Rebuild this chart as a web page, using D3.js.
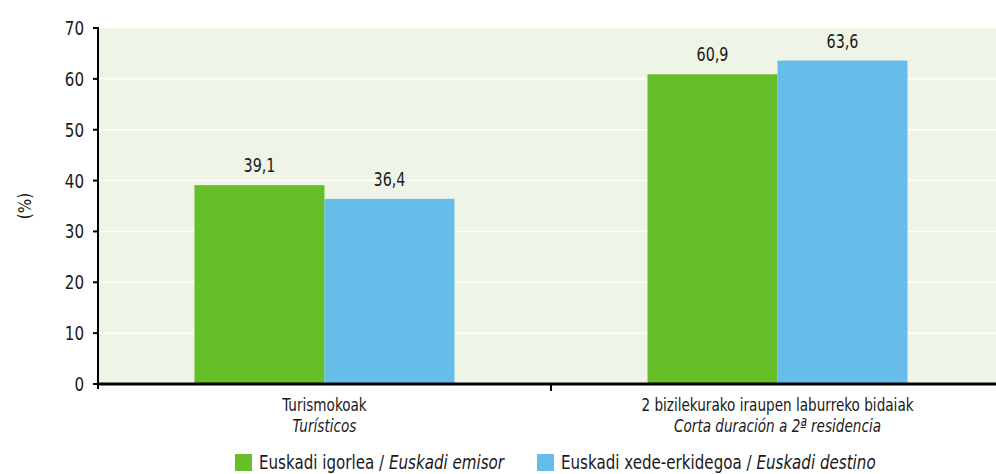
<!DOCTYPE html>
<html>
<head>
<meta charset="utf-8">
<script src="https://cdn.jsdelivr.net/npm/d3@7"></script>
<style>
  body { margin: 0; background: #fff; }
  svg text { font-family: "Liberation Sans Narrow", "DejaVu Sans Condensed", sans-serif; fill: #1a1a1a; }
</style>
</head>
<body>
<div id="chart"></div>
<script>
// Data
var categories = ["Turismokoak", "2 bizilekurako iraupen laburreko bidaiak"];
var categoriesEs = ["Turísticos", "Corta duración a 2ª residencia"];
var seriesKeys = ["emisor", "destino"];
var emisorValues = [39.1, 60.9];
var destinoValues = [36.4, 63.6];
var yTicks = [0, 10, 20, 30, 40, 50, 60, 70];

var colors = {emisor: "#66bf29", destino: "#66bdea"};

var width = 996, height = 474;
var margin = {left: 98, right: -8, top: 28, bottom: 90};

// the original font is tall and narrow, so squeeze the text horizontally
var squeeze = 0.84;

var svg = d3.select("#chart").append("svg")
    .attr("width", width)
    .attr("height", height);

// helper: text placed at (x, y) and squeezed around its anchor point
function label(parent, x, y, size, anchor) {
    return parent.append("g")
        .attr("transform", "translate(" + x + "," + y + ") scale(" + squeeze + ",1)")
      .append("text")
        .attr("text-anchor", anchor || "start")
        .attr("font-size", size + "px");
}

var x0 = d3.scaleBand()
    .domain(categories)
    .range([margin.left, width - margin.right])
    .paddingInner(0.426)
    .paddingOuter(0.213);

var x1 = d3.scaleBand()
    .domain(seriesKeys)
    .range([0, x0.bandwidth()]);

var y = d3.scaleLinear()
    .domain([0, 70])
    .range([height - margin.bottom, margin.top]);

// plot background
svg.append("rect")
    .attr("x", margin.left)
    .attr("y", y(70))
    .attr("width", width - margin.left)
    .attr("height", y(0) - y(70))
    .attr("fill", "#eef4e6");

// white gridlines
svg.append("g")
    .selectAll("line")
    .data(yTicks.filter(function(d){ return d > 0 && d < 70; }))
    .enter().append("line")
        .attr("x1", margin.left)
        .attr("x2", width)
        .attr("y1", function(d){ return y(d); })
        .attr("y2", function(d){ return y(d); })
        .attr("stroke", "#ffffff")
        .attr("stroke-width", 1.5);

var rows = categories.map(function(c, i){
    return {cat: c, emisor: emisorValues[i], destino: destinoValues[i]};
});

var fmt = function(v){ return d3.format(".1f")(v).replace(".", ","); };

rows.forEach(function(row){
    var g = svg.append("g")
        .attr("transform", "translate(" + x0(row.cat) + ",0)");
    seriesKeys.forEach(function(k){
        g.append("rect")
            .attr("x", x1(k))
            .attr("y", y(row[k]))
            .attr("width", x1.bandwidth())
            .attr("height", y(0) - y(row[k]))
            .attr("fill", colors[k]);
        label(g, x1(k) + x1.bandwidth() / 2, y(row[k]) - 13, 19, "middle")
            .text(fmt(row[k]));
    });
});

// y axis
var gy = svg.append("g");
gy.append("path")
    .attr("d", "M" + (margin.left - 5) + "," + y(70) + "H" + margin.left + "V" + (y(0) + 5))
    .attr("fill", "none")
    .attr("stroke", "#000")
    .attr("stroke-width", 2);
yTicks.forEach(function(t){
    gy.append("line")
        .attr("x1", margin.left - 5).attr("x2", margin.left)
        .attr("y1", y(t)).attr("y2", y(t))
        .attr("stroke", "#000").attr("stroke-width", 2);
    label(gy, margin.left - 14, y(t) + 7, 20, "end").text(t);
});

// x axis
svg.append("line")
    .attr("x1", margin.left - 1)
    .attr("x2", width)
    .attr("y1", y(0))
    .attr("y2", y(0))
    .attr("stroke", "#000")
    .attr("stroke-width", 3);

var sep = x0(categories[1]) - x0.step() * x0.paddingInner() / 2;
svg.append("line")
    .attr("x1", sep).attr("x2", sep)
    .attr("y1", y(0)).attr("y2", y(0) + 7)
    .attr("stroke", "#000").attr("stroke-width", 2);

// category labels, two lines each
categories.forEach(function(c, i){
    var cx = x0(c) + x0.bandwidth() / 2;
    label(svg, cx, y(0) + 27, 18, "middle").text(c);
    label(svg, cx, y(0) + 48, 18, "middle")
        .attr("font-style", "italic")
        .text(categoriesEs[i]);
});

// y label
svg.append("text")
    .attr("transform", "translate(31," + ((y(0) + y(70)) / 2) + ") rotate(-90)")
    .attr("text-anchor", "middle")
    .attr("font-size", "17px")
    .text("(%)");

// legend (kept just inside the bottom edge so descenders are not cut)
var legendItems = [
    {key: "emisor", eu: "Euskadi igorlea / ", es: "Euskadi emisor", x: 235},
    {key: "destino", eu: "Euskadi xede-erkidegoa / ", es: "Euskadi destino", x: 537}
];
legendItems.forEach(function(item){
    svg.append("rect")
        .attr("x", item.x)
        .attr("y", 454)
        .attr("width", 17)
        .attr("height", 17)
        .attr("fill", colors[item.key]);
    var t = label(svg, item.x + 24, 469, 20);
    t.append("tspan").text(item.eu);
    t.append("tspan").attr("font-style", "italic").text(item.es);
});
</script>
</body>
</html>
